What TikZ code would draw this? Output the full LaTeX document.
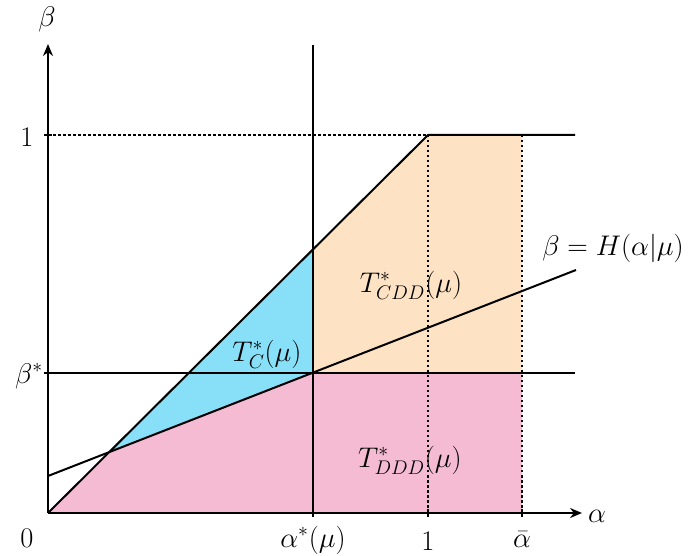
\documentclass[tikz,border=0pt]{standalone}
\usepackage{graphicx}
\usetikzlibrary{arrows.meta}
\definecolor{regC}{RGB}{136,224,248}
\definecolor{regCDD}{RGB}{253,227,196}
\definecolor{regDDD}{RGB}{245,187,211}
\newcommand\mylb[1]{\scalebox{1.37}{$#1$}}
\begin{document}
\begin{tikzpicture}[x=1pt,y=-1pt,
  thickline/.style={line width=2pt},
  dotline/.style={line width=1.2pt,dash pattern=on 2.5pt off 2.5pt},
  axis/.style={line width=2.2pt,-{Stealth[length=12pt,width=10pt]}},
  lbl/.style={font=\huge,inner sep=0pt},
  tick/.style={line width=2pt}]
\useasboundingbox (0,0) rectangle (689,556);
% key points
\coordinate (O) at (48,513);
\coordinate (P) at (109,452);
\coordinate (Q) at (313,373);
\coordinate (R) at (313,249.4);
\coordinate (S) at (428,135);
\coordinate (Tend) at (575,135);
\coordinate (U) at (522,135);
\coordinate (V) at (522,373);
\coordinate (W) at (522,513);
\coordinate (Hs) at (48,476);
\coordinate (He) at (576,270);
\coordinate (Bs) at (48,373);
\coordinate (Be) at (575,373);
\coordinate (Vt) at (313,45);
\coordinate (Vb) at (313,513);
\coordinate (Ys) at (48,135);
\coordinate (Sb) at (428,513);
\coordinate (Xe) at (582,513);
\coordinate (Ye) at (48,44);
% regions
\fill[regDDD] (O) -- (P) -- (Q) -- (V) -- (W) -- cycle;
\fill[regC] (P) -- (R) -- (Q) -- cycle;
\fill[regCDD] (R) -- (S) -- (U) -- (V) -- (Q) -- cycle;
% dotted guides
\draw[dotline] (Ys) -- (S);
\draw[dotline] (S) -- (Sb);
\draw[dotline] (U) -- (W);
% lines
\draw[thickline] (Vb) -- (Vt);
\draw[thickline] (Bs) -- (Be);
\draw[thickline] (Hs) -- (He);
\draw[thickline,line join=round] (O) -- (S) -- (Tend);
% axes
\draw[axis] (O) -- (Xe);
\draw[axis] (O) -- (Ye);
% ticks
\draw[tick] (44,135) -- (52,135);
\draw[tick] (44,373) -- (52,373);
\draw[tick] (313,509) -- (313,517);
\draw[tick] (428,509) -- (428,517);
\draw[tick] (522,509) -- (522,517);
% labels
\node[lbl] (lbeta) at (47,19) {\mylb{\beta}};
\node[lbl] (lalpha) at (597,516) {\mylb{\alpha}};
\node[lbl] (lzero) at (27,538) {\mylb{0}};
\node[lbl] (lone) at (27,137) {\mylb{1}};
\node[lbl] (lbstar) at (29,376) {\mylb{\beta^*}};
\node[lbl] (lastar) at (313,540) {\mylb{\alpha^*(\mu)}};
\node[lbl] (lxone) at (428,541) {\mylb{1}};
\node[lbl] (labar) at (522,540) {\mylb{\bar\alpha}};
\node[lbl] (lTC) at (267,354) {\mylb{T^*_C(\mu)}};
\node[lbl] (lTCDD) at (411,285) {\mylb{T^*_{CDD}(\mu)}};
\node[lbl] (lTDDD) at (410,460) {\mylb{T^*_{DDD}(\mu)}};
\node[lbl] (lH) at (613,248) {\mylb{\beta = H(\alpha|\mu)}};
\end{tikzpicture}
\end{document}
